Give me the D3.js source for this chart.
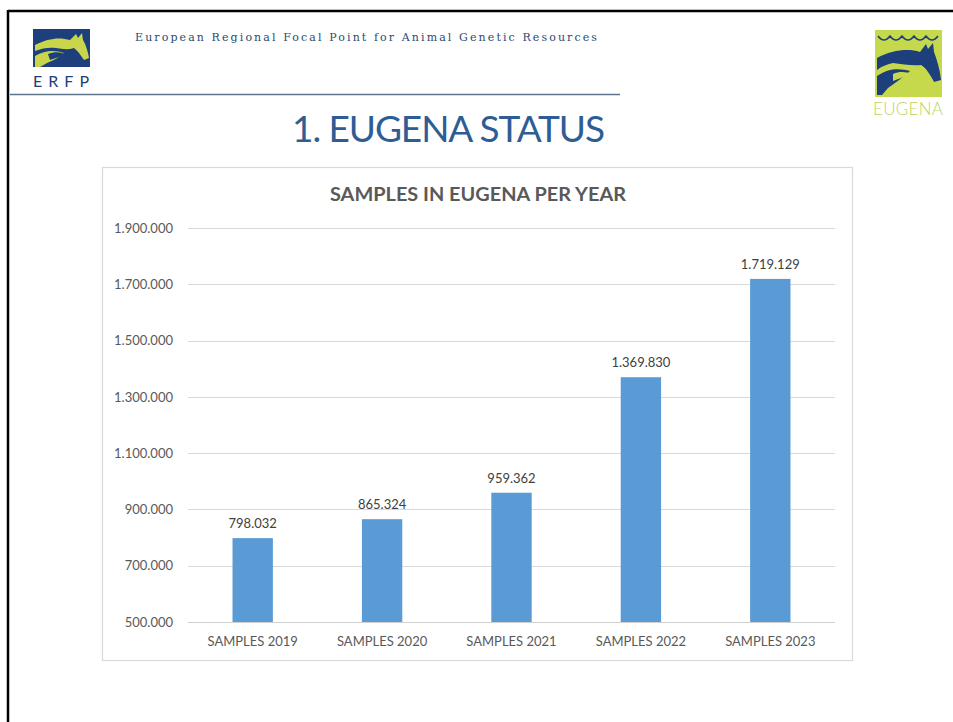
<!DOCTYPE html>
<html><head><meta charset="utf-8">
<script src="https://cdn.jsdelivr.net/npm/d3@7"></script>
<style>html,body{margin:0;padding:0;background:#fff;overflow:hidden}</style>
</head><body>
<svg id="c" width="953" height="722"></svg>
<script>
const categories = ["SAMPLES 2019","SAMPLES 2020","SAMPLES 2021","SAMPLES 2022","SAMPLES 2023"];
const values = [798032, 865324, 959362, 1369830, 1719129];
const yTicks = [500000, 700000, 900000, 1100000, 1300000, 1500000, 1700000, 1900000];
const chartTitle = "SAMPLES IN EUGENA PER YEAR";
const slideTitle = "1. EUGENA STATUS";
const headerText = "European Regional Focal Point for Animal Genetic Resources";

const svg = d3.select("#c");
const fmt = v => d3.format(",")(v).replace(/,/g, ".");
const font = "Lato, 'Open Sans', 'Liberation Sans', sans-serif";

// slide frame
svg.append("line").attr("x1",8).attr("x2",953).attr("y1",11).attr("y2",11).attr("stroke","#000").attr("stroke-width",2.5);
svg.append("line").attr("x1",8).attr("x2",8).attr("y1",10).attr("y2",722).attr("stroke","#000").attr("stroke-width",2.5);

// header
svg.append("text").attr("x",135).attr("y",41).attr("textLength",462).attr("lengthAdjust","spacing")
  .attr("font-family","'DejaVu Serif','Liberation Serif',serif").attr("font-size",11).attr("fill","#2c4a6e").text(headerText);
svg.append("line").attr("x1",10).attr("x2",620).attr("y1",94.5).attr("y2",94.5).attr("stroke","#5d7388").attr("stroke-width",1.5);

// ERFP logo
const g1 = svg.append("g");
g1.append("rect").attr("x",33).attr("y",29).attr("width",57).attr("height",38).attr("fill","#1d3f7c");
g1.append("path").attr("fill","#c9d64b").attr("d","M35,45 C48,38 60,37 70,40 L76,34 L78,38 L82,33 L83,40 C86,45 88,52 89,58 L84,60 C80,54 77,50 74,48 C68,50 62,49 56,48 C50,47 42,48 35,51 Z");
g1.append("path").attr("fill","#c9d64b").attr("d","M35,56 C45,50 55,50 64,53 C60,57 54,60 47,63 L40,67 L35,67 Z");
g1.append("path").attr("fill","#1d3f7c").attr("d","M48,54 C55,51 62,52 66,55 C60,57 55,58 50,60 Z");
g1.append("text").attr("x",33).attr("y",87).attr("textLength",56).attr("lengthAdjust","spacing").attr("font-family",font).attr("font-size",16).attr("fill","#1d3f7c").text("ERFP");

// EUGENA logo
const g2 = svg.append("g");
g2.append("rect").attr("x",875).attr("y",30).attr("width",67).attr("height",67).attr("fill","#c6d94c");
g2.append("path").attr("fill","none").attr("stroke","#1d3f7c").attr("stroke-width",1.5)
  .attr("d","M878,36 Q884,44 890,36 Q896,44 902,36 Q908,44 914,36 Q920,44 926,36 Q932,44 938,36");
g2.append("path").attr("fill","#1d3f7c").attr("d","M877,58 C892,50 908,48 920,52 L926,44 L928,49 L933,43 L934,52 C937,60 940,70 941,80 L934,82 C930,74 926,68 921,65 C912,66 902,64 893,63 C888,64 882,66 877,70 Z");
g2.append("path").attr("fill","#1d3f7c").attr("d","M877,76 C888,68 900,68 910,71 C904,77 896,82 888,88 L882,95 L877,95 Z");
g2.append("path").attr("fill","#c6d94c").attr("d","M893,74 C900,71 907,72 911,74 C904,77 898,79 893,81 Z");
g2.append("text").attr("x",873).attr("y",115).attr("textLength",70).attr("lengthAdjust","spacing").attr("font-family",font).attr("font-weight",300).attr("font-size",17).attr("fill","#bcd45a").text("EUGENA");

// slide title
svg.append("text").attr("x",292).attr("y",142).attr("textLength",313).attr("lengthAdjust","spacing").attr("font-family",font)
  .attr("font-size",37).attr("fill","#2e5d96").text(slideTitle);

// chart frame
svg.append("rect").attr("x",102.5).attr("y",167.5).attr("width",750).attr("height",493).attr("fill","#fff").attr("stroke","#d9d9d9").attr("stroke-width",1.2);

svg.append("text").attr("x",330).attr("y",201).attr("textLength",296).attr("lengthAdjust","spacingAndGlyphs").attr("font-family",font).attr("font-weight","bold")
  .attr("font-size",19).attr("fill","#595959").text(chartTitle);

const x = d3.scaleBand().domain(categories).range([188,835]).paddingInner(0.688).paddingOuter(0.344);
const y = d3.scaleLinear().domain([500000,1900000]).range([622,228]);

// gridlines
svg.append("g").selectAll("line").data(yTicks).join("line")
  .attr("x1",188).attr("x2",835).attr("y1",d=>Math.round(y(d))+0.5).attr("y2",d=>Math.round(y(d))+0.5)
  .attr("stroke",d=>d===500000?"#d0d0d0":"#d9d9d9").attr("stroke-width",1);

// y axis labels
const yAxis = d3.axisLeft(y).tickValues(yTicks).tickFormat(fmt).tickSize(0).tickPadding(0);
const ya = svg.append("g").attr("transform","translate(173,0)").call(yAxis);
ya.select(".domain").remove();
ya.selectAll("text").attr("font-family",font).attr("font-size",13).attr("fill","#595959");

// bars
svg.append("g").selectAll("rect").data(values).join("rect")
  .attr("x",(d,i)=>x(categories[i])).attr("width",x.bandwidth())
  .attr("y",d=>y(d)).attr("height",d=>y(500000)-y(d)).attr("fill","#5b9bd5");

// value labels
svg.append("g").selectAll("text").data(values).join("text")
  .attr("x",(d,i)=>x(categories[i])+x.bandwidth()/2).attr("y",d=>y(d)-10)
  .attr("text-anchor","middle").attr("font-family",font).attr("font-size",13).attr("fill","#404040").text(fmt);

// x axis labels
const xAxis = d3.axisBottom(x).tickSize(0).tickPadding(0);
const xa = svg.append("g").attr("transform","translate(0,637)").call(xAxis);
xa.select(".domain").remove();
xa.selectAll("text").attr("font-family",font).attr("font-size",13).attr("fill","#595959").attr("dy","0.71em");
</script>
</body></html>
